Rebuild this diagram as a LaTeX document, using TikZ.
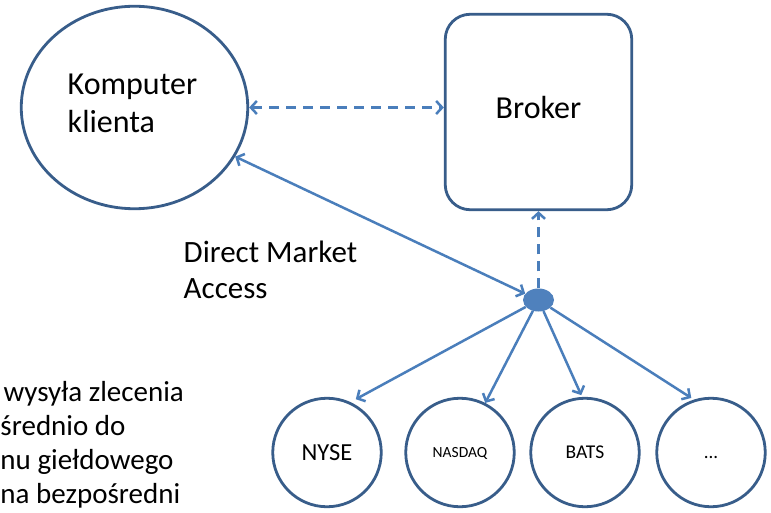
\documentclass[tikz,border=0pt]{standalone}
\usepackage{fontspec}
\setmainfont{Carlito}
\usetikzlibrary{shapes.geometric,arrows.meta}
\definecolor{outl}{RGB}{56,93,138}
\definecolor{arr}{RGB}{74,126,187}
\definecolor{dotc}{RGB}{79,129,189}
\begin{document}
\begin{tikzpicture}[x=1pt,y=-1pt,
  >={Straight Barb[length=6pt,width=13pt]},
  shapeline/.style={draw=outl,line width=2.8pt,fill=white,inner sep=0pt},
  conn/.style={draw=arr,line width=2.5pt},
  dashconn/.style={conn,dash pattern=on 10pt off 7pt},
  txt/.style={inner sep=0pt,align=left,anchor=north west,text=black},
  big/.style={font=\fontsize{32}{38.5}\selectfont},
  exch/.style={shapeline,circle,minimum size=108.5pt}
]
\useasboundingbox (0,0) rectangle (771,513);
\clip (0,0) rectangle (771,513);
\fill[white] (0,0) rectangle (771,513);

% shapes
\node[shapeline,ellipse,minimum width=226.5pt,minimum height=202.5pt] (client) at (134.5,107.5) {};
\node[txt,big] (clientlbl) at (67.5,67.3) {\strut Komputer\\klienta};

\node[shapeline,rectangle,rounded corners=25pt,minimum width=186.5pt,minimum height=195.5pt,
      big,text height=21.5pt,text depth=9pt] (broker) at (538.5,112) {Broker};

\node[ellipse,fill=dotc,draw=none,minimum width=31pt,minimum height=23pt,inner sep=0pt] (hub) at (538.5,300) {};

\node[exch,font=\fontsize{24.5}{28}\selectfont,text height=16pt,text depth=0pt] (nyse) at (327,452.5) {NYSE};
\node[exch,font=\fontsize{15.5}{18}\selectfont,text height=10pt,text depth=0pt] (nasdaq) at (460,452.5) {NASDAQ};
\node[exch,font=\fontsize{19.5}{23}\selectfont,text height=12.5pt,text depth=0pt] (bats) at (585,452.5) {BATS};
\node[exch,font=\fontsize{19}{23}\selectfont,text height=12.5pt,text depth=0pt] (more) at (711,452.5) {...};

% labels
\node[txt,font=\fontsize{31}{36}\selectfont] (dma) at (183.5,237.5) {\strut Direct Market\\Access};
\node[txt,font=\fontsize{29}{34}\selectfont] (desc) at (0.3,377.2)
  {\strut\hspace*{3pt}wysyła zlecenia\\średnio do\\nu giełdowego\\na bezpośredni};

% connectors
\draw[dashconn,<->] (client.east) -- (client.east -| broker.west);
\draw[dashconn,->] (hub.north) -- (hub.north |- broker.south);
\draw[conn,<->] (client.334) -- (hub);
\draw[conn,->,shorten >=6pt] (hub) -- (nyse.65);
\draw[conn,->] (hub) -- (nasdaq.63);
\draw[conn,->,shorten >=2pt] (hub) -- (bats.93);
\draw[conn,->,shorten >=3pt] (hub) -- (more.108);
\end{tikzpicture}
\end{document}
